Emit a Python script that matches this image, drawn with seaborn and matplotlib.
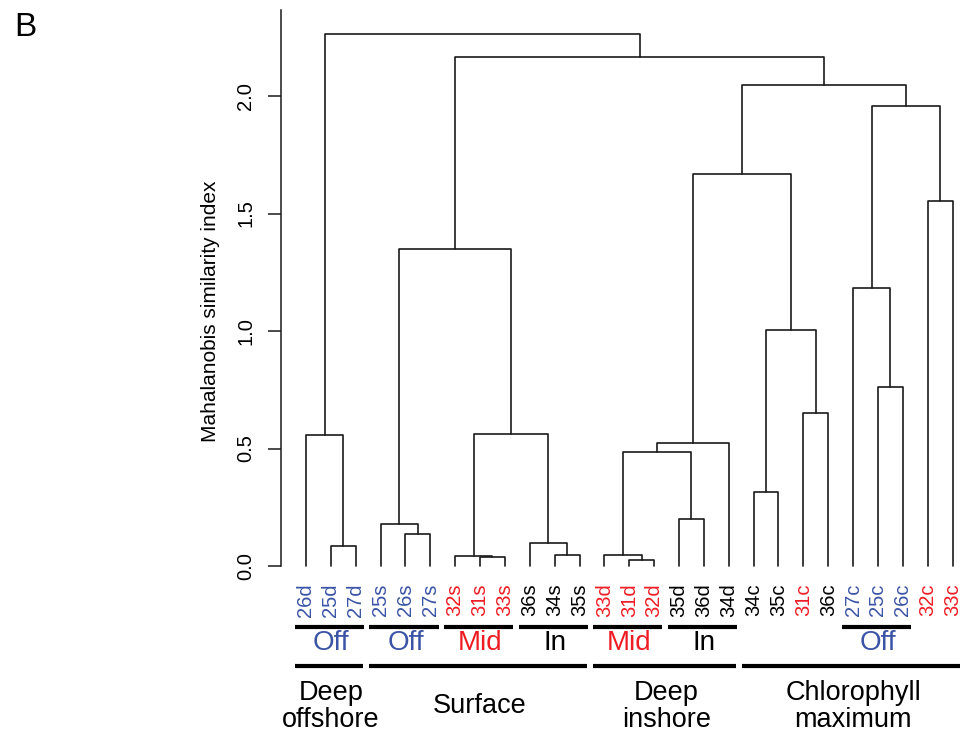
import numpy as np
import pandas as pd
import matplotlib
matplotlib.use("Agg")
import matplotlib.pyplot as plt
import seaborn as sns

# Leaf order as drawn, and the colour of each sample label
leaves = ["26d", "25d", "27d", "25s", "26s", "27s", "32s", "31s", "33s",
          "36s", "34s", "35s", "33d", "31d", "32d", "35d", "36d", "34d",
          "34c", "35c", "31c", "36c", "27c", "25c", "26c", "32c", "33c"]
BLUE = "#3B54A5"
RED = "#EE1D24"
BLACK = "#000000"
leaf_colors = [BLUE, BLUE, BLUE, BLUE, BLUE, BLUE, RED, RED, RED,
               BLACK, BLACK, BLACK, RED, RED, RED, BLACK, BLACK, BLACK,
               BLACK, BLACK, RED, BLACK, BLUE, BLUE, BLUE, RED, RED]

# Merges (scipy style ids: 0-26 leaves, 27+ merged clusters)
merge_left = [13, 7, 6, 10, 12, 1, 9, 4, 3, 15, 18, 31, 38, 0, 29, 20, 23,
              37, 22, 35, 25, 39, 45, 48, 46, 40]
merge_right = [14, 8, 28, 11, 27, 2, 30, 5, 34, 16, 19, 36, 17, 32, 33, 21,
               24, 42, 43, 41, 26, 44, 47, 49, 50, 51]
merge_height = [0.026, 0.037, 0.041, 0.047, 0.048, 0.086, 0.097, 0.135, 0.18,
                0.20, 0.315, 0.485, 0.522, 0.559, 0.56, 0.651, 0.763, 1.006,
                1.183, 1.349, 1.555, 1.667, 1.959, 2.048, 2.166, 2.265]

# Group annotations below the leaves
sub_labels = ["Off", "Off", "Mid", "In", "Mid", "In", "Off"]
sub_start = [0, 3, 6, 9, 12, 15, 22]
sub_end = [2, 5, 8, 11, 14, 17, 24]
sub_colors = [BLUE, BLUE, RED, BLACK, RED, BLACK, BLUE]

main_labels = ["Deep\noffshore", "Surface", "Deep\ninshore", "Chlorophyll\nmaximum"]
main_start = [0, 3, 12, 18]
main_end = [2, 11, 17, 26]

# Build the U-shaped segments of the dendrogram
n = len(leaves)
node_x = {i: float(i) for i in range(n)}
node_h = {i: 0.0 for i in range(n)}
rows = []
for k, (a, b, h) in enumerate(zip(merge_left, merge_right, merge_height)):
    nid = n + k
    xa, xb = node_x[a], node_x[b]
    for j, (px, py) in enumerate([(xa, node_h[a]), (xa, h), (xb, h), (xb, node_h[b])]):
        rows.append({"seg": k, "order": j, "x": px, "y": py})
    node_x[nid] = (xa + xb) / 2
    node_h[nid] = h
seg_df = pd.DataFrame(rows)

sns.set_style("white")
plt.rcParams["font.family"] = ["Liberation Sans", "DejaVu Sans"]
plt.rcParams["text.color"] = "black"
plt.rcParams["ytick.color"] = "black"

fig = plt.figure(figsize=(9.62, 7.31), dpi=100)
ax = fig.add_axes([281 / 962, 165 / 731, 1 - 281 / 962, 556 / 731])

sns.lineplot(data=seg_df, x="x", y="y", units="seg", estimator=None, sort=False,
             color="#1a1a1a", linewidth=1.2, legend=False, ax=ax)
for line in ax.lines:
    line.set_clip_on(False)

ax.set_xlim(-1.005, 26.38)
ax.set_ylim(0, 2.366)
ax.set_xlabel("")
ax.set_ylabel("")
ax.set_xticks([])
ax.set_yticks([0, 0.5, 1.0, 1.5, 2.0])
ax.set_yticklabels(["0.0", "0.5", "1.0", "1.5", "2.0"])
ax.tick_params(axis="y", left=True, length=9.5, width=1.1, labelsize=14.5,
               pad=9, labelrotation=90, color="#1a1a1a", labelcolor="black")
for t in ax.get_yticklabels():
    t.set_va("center")
for s in ["top", "right", "bottom"]:
    ax.spines[s].set_visible(False)
ax.spines["left"].set_linewidth(1.1)
ax.spines["left"].set_color("#1a1a1a")

tr = ax.get_xaxis_transform()

# leaf labels
for i, (lab, c) in enumerate(zip(leaves, leaf_colors)):
    ax.text(i, -0.031, lab, transform=tr, rotation=90, ha="center", va="top",
            fontsize=14.5, color=c)

# first annotation row
for lab, s, e, c in zip(sub_labels, sub_start, sub_end, sub_colors):
    ax.plot([s - 0.45, e + 0.33], [-0.109, -0.109], transform=tr, color=BLACK,
            lw=3, clip_on=False, solid_capstyle="butt")
    ax.text((s + e) / 2, -0.139, lab, transform=tr, ha="center", va="center",
            fontsize=20, color=c)

# second annotation row
for lab, s, e in zip(main_labels, main_start, main_end):
    ax.plot([s - 0.45, e + 0.3], [-0.180, -0.180], transform=tr, color=BLACK,
            lw=3, clip_on=False, solid_capstyle="butt")
    ax.text((s + e) / 2, -0.252, lab, transform=tr, ha="center", va="center",
            fontsize=19.5, color=BLACK, linespacing=1.05)

fig.text(210 / 962, (731 - 311) / 731, "Mahalanobis similarity index",
         rotation=90, ha="center", va="center", fontsize=15)
fig.text(25 / 962, (731 - 27) / 731, "B", ha="center", va="center", fontsize=24)

fig.savefig("out.png", dpi=100)
